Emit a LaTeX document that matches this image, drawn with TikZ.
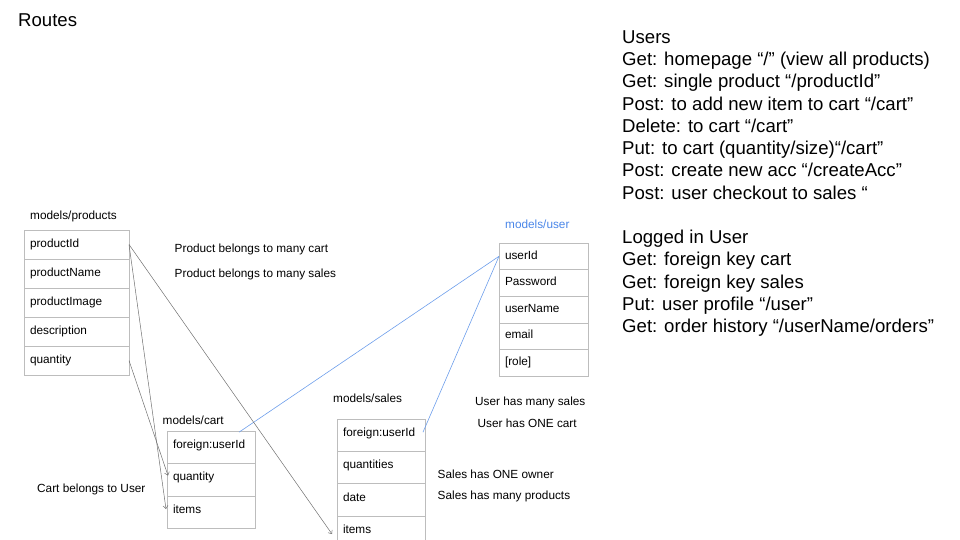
\documentclass[tikz,border=0pt]{standalone}
\usepackage{fontspec}
\setmainfont{Liberation Sans}
\usetikzlibrary{positioning,arrows.meta}

\definecolor{cellgray}{HTML}{BDBDBD}
\definecolor{refgray}{HTML}{707070}
\definecolor{userblue}{HTML}{6D9EEB}
\definecolor{titleblue}{HTML}{4A86E8}

\tikzset{
  cell/.style={draw=cellgray, inner xsep=6pt, inner ysep=0pt, outer sep=0pt,
    align=left, text height=8.5pt, text depth=3pt,
    font=\fontsize{11.8}{14}\selectfont},
  prodcell/.style={cell, text width=93pt, minimum height=29pt},
  usercell/.style={cell, text width=77pt, minimum height=26.6pt},
  cartcell/.style={cell, text width=76pt, minimum height=32.4pt, text depth=6pt},
  salecell/.style={cell, text width=76pt, minimum height=32.3pt, text depth=6pt},
  note/.style={inner sep=0pt, anchor=west, font=\fontsize{11.8}{14}\selectfont},
  route/.style={inner sep=0pt, anchor=base west, font=\fontsize{18.6}{22}\selectfont},
  fklink/.style={userblue, line width=0.6pt},
  reflink/.style={refgray, line width=0.5pt, -{Straight Barb[length=3pt,width=5pt]}}
}

\begin{document}
\begin{tikzpicture}[x=1pt, y=-1pt]
\useasboundingbox (0,0) rectangle (960,540);

\node[route] (routes) at (18,27) {Routes};

% products
\node[note] (prodlbl) at (30,216) {models/products};
\node[prodcell, anchor=north west] (pid) at (24,230) {productId};
\node[prodcell, below=0pt of pid] (pname) {productName};
\node[prodcell, below=0pt of pname] (pimg) {productImage};
\node[prodcell, below=0pt of pimg] (pdesc) {description};
\node[prodcell, below=0pt of pdesc] (pqty) {quantity};

\node[note] (prodcart) at (174.5,249) {Product belongs to many cart};
\node[note] (prodsales) at (174.5,274) {Product belongs to many sales};

% user
\node[note, text=titleblue] (userlbl) at (505,224) {models/user};
\node[usercell, anchor=north west] (uid) at (499,243) {userId};
\node[usercell, below=0pt of uid] (upass) {Password};
\node[usercell, below=0pt of upass] (uname) {userName};
\node[usercell, below=0pt of uname] (umail) {email};
\node[usercell, below=0pt of umail] (urole) {[role]};

\node[note] (usersales) at (475,402.5) {User has many sales};
\node[note] (usercart) at (477.5,423.5) {User has ONE cart};

% cart
\node[note] (cartlbl) at (162.5,420.5) {models/cart};
\node[cartcell, anchor=north west] (cfk) at (167,431) {foreign:userId};
\node[cartcell, below=0pt of cfk] (cqty) {quantity};
\node[cartcell, below=0pt of cqty] (citems) {items};

\node[note] (cartuser) at (37,489.5) {Cart belongs to User};

% sales
\node[note] (salelbl) at (333,398.5) {models/sales};
\node[salecell, anchor=north west] (sfk) at (337,419) {foreign:userId};
\node[salecell, below=0pt of sfk] (sqty) {quantities};
\node[salecell, below=0pt of sqty] (sdate) {date};
\node[salecell, below=0pt of sdate] (sitems) {items};

\node[note] (saleowner) at (437.5,474.5) {Sales has ONE owner};
\node[note] (saleprod) at (437.5,496.5) {Sales has many products};

% routes list
\foreach \txt [count=\i from 0] in {Users, Get: homepage “/” (view all products),
    Get: single product “/productId”, Post: to add new item to cart “/cart”,
    Delete: to cart “/cart”, Put: to cart (quantity/size)“/cart”,
    Post: create new acc “/createAcc”, Post: user checkout to sales “}
  \node[route] (rt\i) at (622,43.3+22.25*\i) {\txt};
\foreach \txt [count=\i from 9] in {Logged in User, Get: foreign key cart,
    Get: foreign key sales, Put: user profile “/user”,
    Get: order history “/userName/orders”}
  \node[route] (rt\i) at (622,43.3+22.25*\i) {\txt};

% link ends
\coordinate (cfkend) at ([xshift=-16pt,yshift=15pt]cfk.east);
\coordinate (sfkend) at ([xshift=-2pt,yshift=3pt]sfk.east);
\coordinate (cqtyend) at ([xshift=1pt,yshift=4pt]cqty.west);
\coordinate (citemsend) at ([xshift=-1pt,yshift=3pt]citems.west);
\coordinate (sitemsend) at ([xshift=-5pt,yshift=-2pt]sitems.west);

\draw[fklink] (uid.west) -- (cfkend);
\draw[fklink] (uid.west) -- (sfkend);

\draw[reflink] (pid.east) -- (citemsend);
\draw[reflink] (pid.east) -- (sitemsend);
\draw[reflink] (pqty.east) -- (cqtyend);
\end{tikzpicture}
\end{document}
